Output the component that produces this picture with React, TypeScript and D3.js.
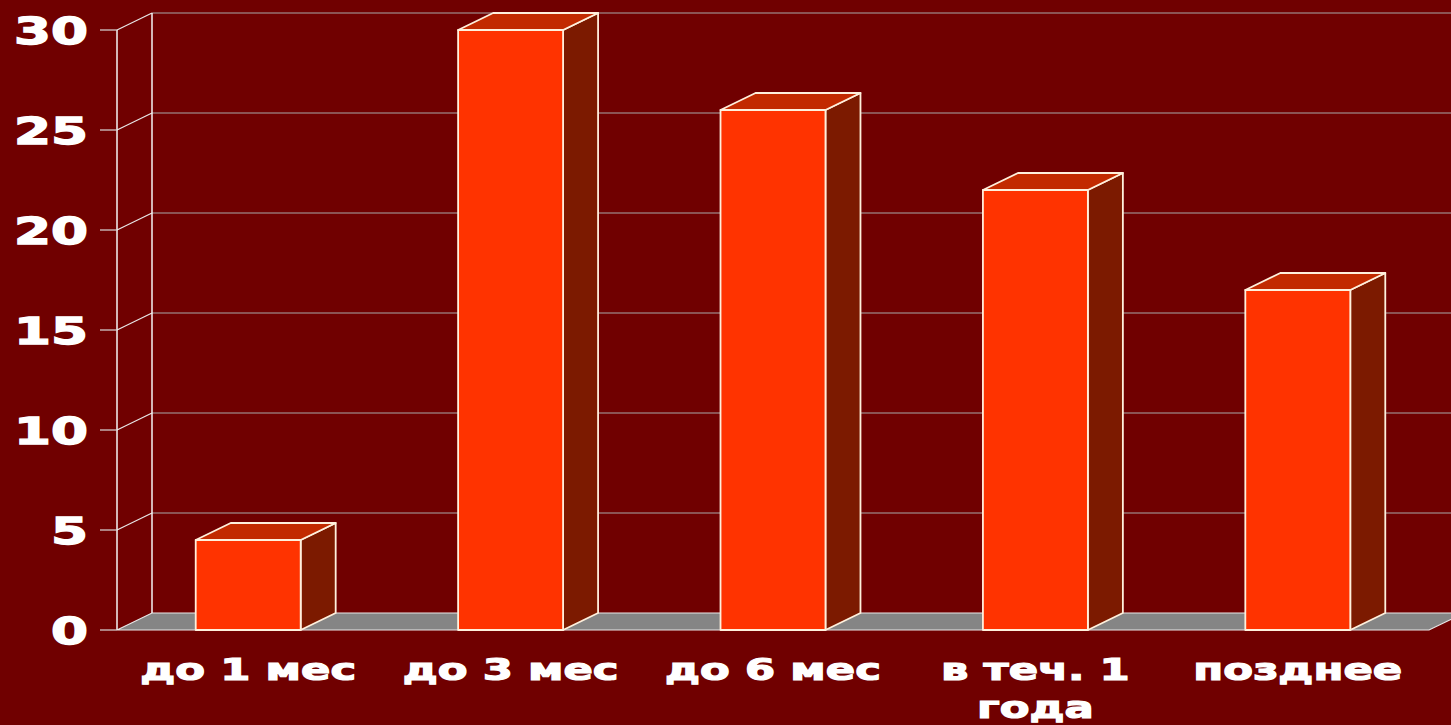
import React from "react";
import * as d3 from "d3";

const categories: string[][] = [["до 1 мес"], ["до 3 мес"], ["до 6 мес"], ["в теч. 1", "года"], ["позднее"]];
const values: number[] = [4.5, 30, 26, 22, 17];
const yTicks: number[] = [0, 5, 10, 15, 20, 25, 30];

const W = 1451;
const H = 725;
const DX = 35;
const DY = -17;

export default function App() {
  const y = d3.scaleLinear().domain([0, 30]).range([630, 30]);
  const keys = categories.map((c) => c.join(" "));
  const x = d3.scaleBand<string>().domain(keys).range([117, 1429]).paddingInner(0.6).paddingOuter(0.3);
  const x0 = 117;
  const x1 = 1429;
  const bw = x.bandwidth();
  const edge = "#fff0dc";
  const font = "'DejaVu Sans', Verdana, sans-serif";

  return (
    <svg width={W} height={H} style={{ position: "absolute", left: 0, top: 0, display: "block" }}>
      <rect x={0} y={0} width={W} height={H} fill="#700000" />
      {yTicks.filter((t) => t > 0).map((t) => (
        <line key={"g" + t} x1={x0 + DX} x2={x1 + DX} y1={y(t) + DY} y2={y(t) + DY} stroke="#a8a8a8" strokeWidth={1} />
      ))}
      {yTicks.filter((t) => t > 0).map((t) => (
        <line key={"d" + t} x1={x0} x2={x0 + DX} y1={y(t)} y2={y(t) + DY} stroke="#e8e8e8" strokeWidth={1.2} />
      ))}
      <path
        d={`M${x0},${y(0)} L${x1},${y(0)} L${x1 + DX},${y(0) + DY} L${x0 + DX},${y(0) + DY} Z`}
        fill="#858585"
        stroke="#e8e8e8"
        strokeWidth={1.2}
      />
      <line x1={x0 + DX} x2={x0 + DX} y1={y(30) + DY} y2={y(0) + DY} stroke="#f4f4f4" strokeWidth={1.5} />
      <line x1={x0} x2={x0} y1={y(30)} y2={y(0)} stroke="#f4f4f4" strokeWidth={1.5} />
      {yTicks.map((t) => (
        <line key={"t" + t} x1={x0 - 17} x2={x0} y1={y(t)} y2={y(t)} stroke="#d8d8d8" strokeWidth={1.2} />
      ))}
      {values.map((v, i) => {
        const bx = x(keys[i]) as number;
        const top = y(v);
        const bot = y(0);
        return (
          <g key={"b" + i} stroke={edge} strokeWidth={1.8} strokeLinejoin="round">
            <path d={`M${bx + bw},${top} L${bx + bw + DX},${top + DY} L${bx + bw + DX},${bot + DY} L${bx + bw},${bot} Z`} fill="#7c1a00" />
            <path d={`M${bx},${top} L${bx + DX},${top + DY} L${bx + bw + DX},${top + DY} L${bx + bw},${top} Z`} fill="#c22a00" />
            <rect x={bx} y={top} width={bw} height={bot - top} fill="#ff3300" />
          </g>
        );
      })}
      {yTicks.map((t) => (
        <text
          key={"yl" + t}
          transform={`translate(88,${y(t) + 14}) scale(1.4,1)`}
          textAnchor="end"
          fill="#ffffff"
          stroke="#ffffff"
          strokeWidth={1.4}
          fontFamily={font}
          fontWeight="bold"
          fontSize={38}
        >
          {t}
        </text>
      ))}
      {categories.map((lines, i) => {
        const cx = (x(keys[i]) as number) + bw / 2;
        return lines.map((ln, j) => (
          <text
            key={"c" + i + "_" + j}
            transform={`translate(${cx},${680 + j * 38}) scale(1.4,1)`}
            textAnchor="middle"
            fill="#ffffff"
            stroke="#ffffff"
            strokeWidth={1.2}
            fontFamily={font}
            fontWeight="bold"
            fontSize={31}
          >
            {ln}
          </text>
        ));
      })}
    </svg>
  );
}
